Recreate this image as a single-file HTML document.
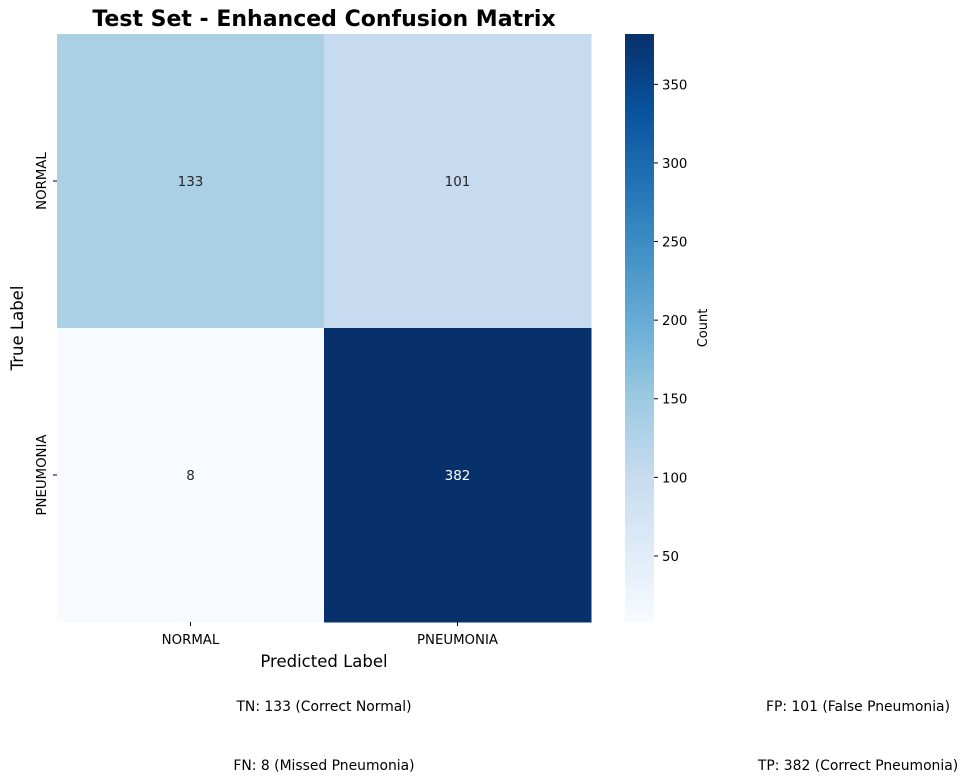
<!DOCTYPE html>
<html><head><meta charset="utf-8"><style>
body{margin:0;background:#fff;}
svg{display:block;font-family:"DejaVu Sans","Liberation Sans",sans-serif;}
</style></head><body>
<svg id="chart" width="968" height="783" xmlns="http://www.w3.org/2000/svg">
<defs><linearGradient id="cbgrad" x1="0" y1="1" x2="0" y2="0"></linearGradient></defs>
<text x="324" y="26" text-anchor="middle" font-size="22" font-weight="bold" fill="#000">Test Set - Enhanced Confusion Matrix</text>
<g id="cells"></g>
<g id="axes"></g>
<text x="324" y="667" text-anchor="middle" font-size="16.5">Predicted Label</text>
<text x="0" y="0" transform="translate(23,328) rotate(-90)" text-anchor="middle" font-size="16.5">True Label</text>
<rect id="cbar" x="625" y="34" width="29" height="588" fill="url(#cbgrad)"/>
<g id="cbticks"></g>
<text transform="translate(707,328) rotate(-90)" text-anchor="middle" font-size="13">Count</text>
<g font-size="13.9" text-anchor="middle">
<text x="324" y="711">TN: 133 (Correct Normal)</text>
<text x="858" y="711">FP: 101 (False Pneumonia)</text>
<text x="324" y="770">FN: 8 (Missed Pneumonia)</text>
<text x="858" y="770">TP: 382 (Correct Pneumonia)</text>
</g>
</svg>
<script>
const categories = ["NORMAL","PNEUMONIA"];
const matrixValues = [[133,101],[8,382]];
const cbTicks = [50,100,150,200,250,300,350];

const NS="http://www.w3.org/2000/svg";
const X0=57,X1=591,Y0=34,Y1=622;
const flat=matrixValues.flat();
const vmin=Math.min(...flat),vmax=Math.max(...flat);
const blues=["#f7fbff","#deebf7","#c6dbef","#9ecae1","#6baed6","#4292c6","#2171b5","#08519c","#08306b"];
function hex(h){return [1,3,5].map(i=>parseInt(h.substr(i,2),16));}
function cmap(v){let t=(v-vmin)/(vmax-vmin);t=Math.max(0,Math.min(1,t));const p=t*(blues.length-1);const i=Math.min(Math.floor(p),blues.length-2);const f=p-i;const a=hex(blues[i]),b=hex(blues[i+1]);const c=a.map((x,k)=>Math.round(x+(b[k]-x)*f));return {css:`rgb(${c})`,lum:(0.299*c[0]+0.587*c[1]+0.114*c[2])};}
const cw=(X1-X0)/categories.length,ch=(Y1-Y0)/categories.length;
const cells=document.getElementById('cells'),axes=document.getElementById('axes');
function mk(tag,attrs,parent){const e=document.createElementNS(NS,tag);for(const k in attrs)e.setAttribute(k,attrs[k]);parent.appendChild(e);return e;}
matrixValues.forEach((row,r)=>row.forEach((v,c)=>{
  const col=cmap(v);
  const rect=mk('rect',{x:X0+c*cw,y:Y0+r*ch,width:cw+0.5,height:ch+0.5,fill:col.css},cells);
  
  
  const t=mk('text',{x:X0+(c+0.5)*cw,y:Y0+(r+0.5)*ch+5,'text-anchor':'middle','font-size':13.5,fill:col.lum<128?'#fff':'#262626'},cells);
  t.textContent=v;
  
  
}));
categories.forEach((cat,i)=>{
  const x=X0+(i+0.5)*cw;
  mk('line',{x1:x,x2:x,y1:Y1,y2:Y1+4,stroke:'#000'},axes);
  const t=mk('text',{x:x,y:Y1+22,'text-anchor':'middle','font-size':13.3},axes);
  t.textContent=cat;
  
  
  const y=Y0+(i+0.5)*ch;
  mk('line',{x1:X0-4,x2:X0,y1:y,y2:y,stroke:'#000'},axes);
  const u=mk('text',{transform:`translate(${X0-11},${y}) rotate(-90)`,'text-anchor':'middle','font-size':13.3},axes);
  u.textContent=cat;
  
  
});
const g=document.getElementById('cbgrad');
blues.forEach((b,i)=>mk('stop',{offset:(i/(blues.length-1)),'stop-color':b},g));
const cbt=document.getElementById('cbticks');
cbTicks.forEach(v=>{
  const y=Y1-(v-vmin)/(vmax-vmin)*(Y1-Y0);
  mk('line',{x1:654,x2:658,y1:y,y2:y,stroke:'#000'},cbt);
  const t=mk('text',{x:662,y:y+5,'font-size':13.3},cbt);
  t.textContent=v;
  
  
});
</script>
</body></html>
